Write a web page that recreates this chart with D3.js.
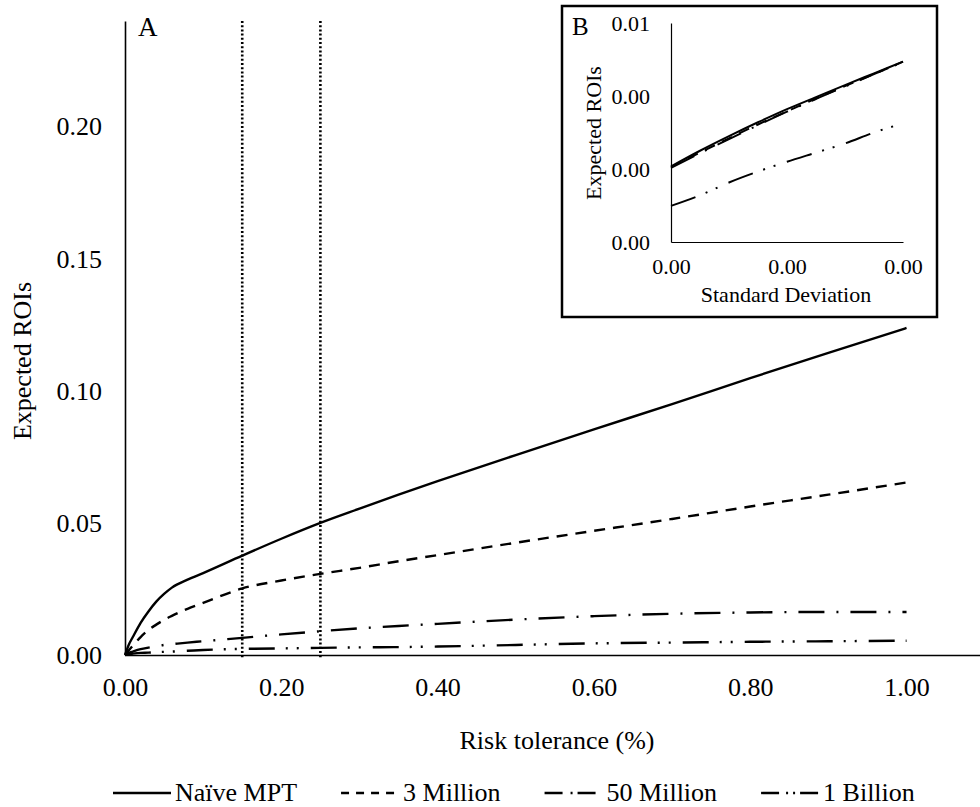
<!DOCTYPE html>
<html>
<head>
<meta charset="utf-8">
<script src="https://cdn.jsdelivr.net/npm/d3@7"></script>
<style>
  body { margin: 0; background: #fff; }
  svg, svg text { font-family: "Liberation Serif", "DejaVu Serif", serif !important; fill: #000; }
</style>
</head>
<body>
<div id="chart"></div>
<script>
// main panel (A): risk tolerance vs expected ROI
const riskTol = [0, 0.005, 0.01, 0.02, 0.03, 0.04, 0.05, 0.06, 0.08, 0.10, 0.15, 0.20, 0.25, 0.30, 0.35, 0.40, 0.50, 0.60, 0.70, 0.80, 0.90, 1.00];
const naiveMPT = [0, 0.0040, 0.0068, 0.0122, 0.0165, 0.0202, 0.0231, 0.0255, 0.0285, 0.0310, 0.0376, 0.0440, 0.0500, 0.0554, 0.0607, 0.0658, 0.0757, 0.0854, 0.0950, 0.1048, 0.1144, 0.1238];
const million3 = [0, 0.0018, 0.0035, 0.0068, 0.0095, 0.0115, 0.0133, 0.0148, 0.0175, 0.0197, 0.0252, 0.0282, 0.0307, 0.0330, 0.0355, 0.0378, 0.0425, 0.0470, 0.0515, 0.0562, 0.0607, 0.0653];
const million50 = [0, 0.0008, 0.0013, 0.0022, 0.0028, 0.0033, 0.0038, 0.0041, 0.0047, 0.0052, 0.0065, 0.0078, 0.0090, 0.0101, 0.0110, 0.0118, 0.0134, 0.0147, 0.0156, 0.0161, 0.0163, 0.0163];
const billion1 = [0, 0.0003, 0.0005, 0.0008, 0.0009, 0.0011, 0.0012, 0.0013, 0.0016, 0.0019, 0.0023, 0.0025, 0.0027, 0.0029, 0.0030, 0.0032, 0.0038, 0.0044, 0.0047, 0.0050, 0.0052, 0.0054];
const xTicks = [0, 0.2, 0.4, 0.6, 0.8, 1.0];
const yTicks = [0, 0.05, 0.10, 0.15, 0.20];
const markers = [0.15, 0.25];

// inset panel (B): standard deviation vs expected ROI
const insetSd = [0, 0.0005, 0.001, 0.0015, 0.002, 0.0025, 0.003, 0.0035, 0.004];
const insetNaive = [0.00207, 0.00250, 0.00290, 0.00328, 0.00364, 0.00397, 0.00430, 0.00462, 0.00494];
const inset3M = [0.00205, 0.00245, 0.00284, 0.00322, 0.00358, 0.00393, 0.00427, 0.00460, 0.00494];
const inset50M = [0.00203, 0.00243, 0.00282, 0.00320, 0.00357, 0.00392, 0.00426, 0.00460, 0.00493];
const inset1B = [0.00099, 0.00128, 0.00163, 0.00193, 0.00220, 0.00245, 0.00270, 0.00300, 0.00325];
const insetXTicks = [0, 0.002, 0.004];
const insetYTicks = [0, 0.002, 0.004, 0.006];

const seriesNames = ['Naïve MPT', '3 Million', '50 Million', '1 Billion'];
const dashes = [null, '11,8', '26,12,2,12', '26,11,2,9,2,12'];
const legendDashes = [null, '8,7', '18,8,2,5', '18,7,2,5,2,5'];

const width = 980, height = 807;
const serif = '"Liberation Serif", "DejaVu Serif", serif';
const fmt = d3.format('.2f');

const svg = d3.select('#chart').append('svg')
    .attr('width', width)
    .attr('height', height)
    .attr('font-family', serif);

// scales
const x = d3.scaleLinear().domain([0, 1.094]).range([125, 980]);
const y = d3.scaleLinear().domain([0, 0.24]).range([655, 21]);

// axes
const yAxis = svg.append('g')
    .attr('transform', 'translate(125,0)')
    .call(d3.axisLeft(y).tickValues(yTicks).tickFormat(fmt).tickSize(0).tickPadding(23));
const xAxis = svg.append('g')
    .attr('transform', 'translate(0,655)')
    .call(d3.axisBottom(x).tickValues(xTicks).tickFormat(fmt).tickSize(0).tickPadding(23));
[xAxis, yAxis].forEach(a => {
    a.attr('font-family', serif);
    a.select('.domain').attr('stroke', '#000').attr('stroke-width', 1.6);
    a.selectAll('text').style('font-size', '26px');
});

// dotted markers
svg.selectAll('line.marker')
    .data(markers)
    .join('line')
    .attr('class', 'marker')
    .attr('x1', d => x(d)).attr('x2', d => x(d))
    .attr('y1', y(0.24)).attr('y2', y(0) + 3)
    .attr('stroke', '#000')
    .attr('stroke-width', 2.6)
    .attr('stroke-dasharray', '2,2.2');

// curves
const mainSeries = [naiveMPT, million3, million50, billion1];
const line = d3.line()
    .x(d => x(d[0]))
    .y(d => y(d[1]))
    .curve(d3.curveMonotoneX);

svg.selectAll('path.series')
    .data(mainSeries)
    .join('path')
    .attr('class', 'series')
    .attr('d', vals => line(riskTol.map((t, i) => [t, vals[i]])))
    .attr('fill', 'none')
    .attr('stroke', '#000')
    .attr('stroke-width', 2.4)
    .attr('stroke-dasharray', (d, i) => dashes[i]);

svg.append('text')
    .attr('x', 138).attr('y', 36)
    .style('font-size', '27px')
    .text('A');

// axis titles
svg.append('text')
    .attr('transform', 'translate(31,361) rotate(-90)')
    .attr('text-anchor', 'middle')
    .style('font-size', '26px')
    .text('Expected ROIs');

svg.append('text')
    .attr('x', 557).attr('y', 749)
    .attr('text-anchor', 'middle')
    .style('font-size', '26px')
    .text('Risk tolerance (%)');

// ---- inset ----
const inset = svg.append('g');
inset.append('rect')
    .attr('x', 562).attr('y', 6)
    .attr('width', 375).attr('height', 311)
    .attr('fill', '#fff')
    .attr('stroke', '#000')
    .attr('stroke-width', 2.5);

const ix = d3.scaleLinear().domain([0, 0.004]).range([671, 903]);
const iy = d3.scaleLinear().domain([0, 0.006]).range([242, 23]);

const iyAxis = inset.append('g')
    .attr('transform', 'translate(671,0)')
    .call(d3.axisLeft(iy).tickValues(insetYTicks).tickFormat(fmt).tickSize(0).tickPadding(21));
const ixAxis = inset.append('g')
    .attr('transform', 'translate(0,242)')
    .call(d3.axisBottom(ix).tickValues(insetXTicks).tickFormat(fmt).tickSize(0).tickPadding(16));
[ixAxis, iyAxis].forEach(a => {
    a.attr('font-family', serif);
    a.select('.domain').attr('stroke', '#000').attr('stroke-width', 1.2);
    a.selectAll('text').style('font-size', '22px');
});

const insetLine = d3.line()
    .x(d => ix(d[0]))
    .y(d => iy(d[1]))
    .curve(d3.curveMonotoneX);

inset.selectAll('path.iseries')
    .data([insetNaive, inset3M, inset50M, inset1B])
    .join('path')
    .attr('class', 'iseries')
    .attr('d', vals => insetLine(insetSd.map((s, i) => [s, vals[i]])))
    .attr('fill', 'none')
    .attr('stroke', '#000')
    .attr('stroke-width', 2)
    .attr('stroke-dasharray', (d, i) => dashes[i]);

inset.append('text')
    .attr('x', 572).attr('y', 35)
    .style('font-size', '25px')
    .text('B');

inset.append('text')
    .attr('transform', 'translate(601,133) rotate(-90)')
    .attr('text-anchor', 'middle')
    .style('font-size', '22px')
    .text('Expected ROIs');

inset.append('text')
    .attr('x', 786).attr('y', 302)
    .attr('text-anchor', 'middle')
    .style('font-size', '22px')
    .text('Standard Deviation');

// ---- legend ----
const legend = svg.append('g');
let lx = 113;
seriesNames.forEach((name, i) => {
    const item = legend.append('g');
    item.append('line')
        .attr('x1', lx).attr('x2', lx + 58)
        .attr('y1', 793).attr('y2', 793)
        .attr('stroke', '#000')
        .attr('stroke-width', 2.4)
        .attr('stroke-dasharray', legendDashes[i]);
    const t = item.append('text')
        .attr('x', lx + 62).attr('y', 801)
        .style('font-size', '26px')
        .text(name);
    lx += 62 + t.node().getComputedTextLength() + 44;
});
</script>
</body>
</html>
